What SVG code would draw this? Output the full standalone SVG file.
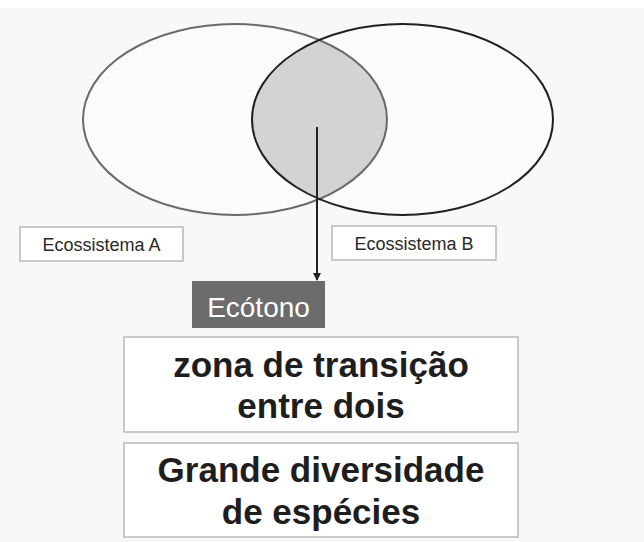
<svg xmlns="http://www.w3.org/2000/svg" width="644" height="542" viewBox="0 0 644 542">
<style>
.box{fill:#ffffff;stroke:#b8b8b8;stroke-width:1.5}
.small{font-family:"Liberation Sans",Arial,sans-serif;font-size:18px;fill:#2a2a2a;text-anchor:middle}
.big{font-family:"Liberation Sans",Arial,sans-serif;font-size:35px;font-weight:bold;fill:#1e1e1e;text-anchor:middle}
</style>
<defs>
<clipPath id="clipA"><ellipse cx="235" cy="119.5" rx="152" ry="95.5"/></clipPath>
<marker id="arr" markerWidth="8" markerHeight="10" refX="7" refY="4" orient="auto" markerUnits="userSpaceOnUse"><path d="M0,0 L8,4 L0,8 Z" fill="#222"/></marker>
</defs>
<rect width="644" height="542" fill="#f8f8f8"/>
<rect width="644" height="8" fill="#ffffff"/>
<g id="ecosA">
<ellipse cx="235" cy="119.5" rx="152" ry="95.5" fill="#fbfbfb"/>
</g>
<g id="ecosB-shape">
<ellipse cx="402.5" cy="119.5" rx="150.5" ry="95.5" fill="#fbfbfb"/>
</g>
<g id="overlap">
<ellipse cx="402.5" cy="119.5" rx="150.5" ry="95.5" fill="#d3d3d5" clip-path="url(#clipA)"/>
</g>
<ellipse cx="235" cy="119.5" rx="152" ry="95.5" fill="none" stroke="#6a6a6a" stroke-width="2"/>
<ellipse cx="402.5" cy="119.5" rx="150.5" ry="95.5" fill="none" stroke="#202020" stroke-width="2"/>
<g id="labelA">
<rect class="box" x="20" y="227" width="163" height="34" stroke="#a8a8a8"/>
<text class="small" x="101.5" y="251">Ecossistema A</text>
</g>
<g id="labelB">
<rect class="box" x="332" y="226" width="164" height="34" stroke="#a8a8a8"/>
<text class="small" x="414" y="250">Ecossistema B</text>
</g>
<g id="connectors">
<line x1="317" y1="127" x2="317" y2="280" stroke="#222" stroke-width="2" marker-end="url(#arr)"/>
</g>
<g id="ecotono">
<rect x="192" y="281" width="133" height="47" fill="#6c6c6c"/>
<text x="258.5" y="317" font-family="Liberation Sans, Arial, sans-serif" font-size="28" fill="#ffffff" text-anchor="middle">Ecótono</text>
</g>
<g id="zona">
<rect class="box" x="124" y="337" width="394" height="95"/>
<text class="big" x="321" y="377">zona de transição</text>
<text class="big" x="321" y="418">entre dois</text>
</g>
<g id="diversidade">
<rect class="box" x="124" y="443" width="394" height="94"/>
<text class="big" x="321" y="482">Grande diversidade</text>
<text class="big" x="321" y="524">de espécies</text>
</g>
</svg>
